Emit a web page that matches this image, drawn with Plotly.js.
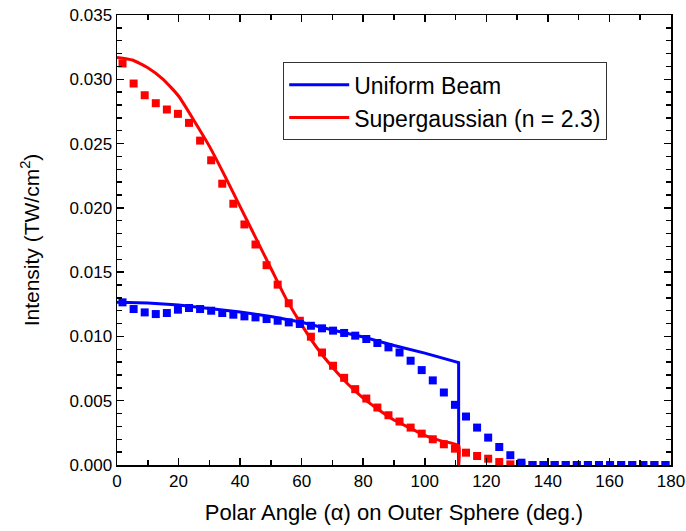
<!DOCTYPE html>
<html>
<head>
<meta charset="utf-8">
<script src="https://cdn.plot.ly/plotly-3.0.1.min.js"></script>
<style>html,body{margin:0;padding:0;background:#fff;}</style>
</head>
<body>
<div id="chart" style="width:686px;height:531px;"></div>
<script>
// Sample angles of the square markers (deg)
const angles = [1.8,5.4,9.0,12.6,16.2,19.8,23.4,27.0,30.6,34.2,37.8,41.4,45.0,48.6,52.2,55.8,59.4,63.0,66.6,70.2,73.8,77.4,81.0,84.6,88.2,91.8,95.4,99.0,102.6,106.2,109.8,113.4,117.0,120.6,124.2,127.8,131.4,135.0,138.6,142.2,145.8,149.4,153.0,156.6,160.2,163.8,167.4,171.0,174.6,178.2];

// Uniform beam (blue squares)
const uniformPts = [0.01265,0.01213,0.01187,0.01174,0.01182,0.01208,0.01221,0.01213,0.01200,0.01182,0.01169,0.01156,0.01148,0.01135,0.01122,0.01109,0.01097,0.01083,0.01063,0.01045,0.01027,0.01006,0.00980,0.00949,0.00915,0.00875,0.00811,0.00738,0.00658,0.00564,0.00468,0.00377,0.00291,0.00213,0.00140,0.00076,0.00018,0,0,0,0,0,0,0,0,0,0,0,0,0];

// Supergaussian (red squares)
const superPts = [0.03123,0.02967,0.02876,0.02814,0.02765,0.02731,0.02661,0.02523,0.02370,0.02188,0.02032,0.01871,0.01715,0.01554,0.01403,0.01258,0.01122,0.00998,0.00875,0.00772,0.00678,0.00590,0.00517,0.00447,0.00387,0.00338,0.00291,0.00244,0.00200,0.00161,0.00127,0.00096,0.00070,0.00049,0.00023,0.00005,0,0,0,0,0,0,0,0,0,0,0,0,0,0];

// Uniform beam (blue line)
const uniformLineX = [0,10,20,30,40,50,60,70,80,90,100,111,111];
const uniformLineY = [0.01265,0.0126,0.01245,0.0122,0.0119,0.01155,0.0111,0.0105,0.00995,0.0093,0.0087,0.00797,0];

// Supergaussian (red line)
const superLineX = [0,5,10,15,20,25,30,35,40,45,50,55,60,65,70,75,80,85,90,95,100,105,111,111];
const superLineY = [0.0317,0.0315,0.0309,0.0300,0.0287,0.0268,0.0248,0.0225,0.0201,0.0177,0.0153,0.0129,0.0109,0.0091,0.0076,0.0063,0.0052,0.0043,0.0035,0.0029,0.0023,0.0019,0.0015,0];

const legendNames = ['Uniform Beam','Supergaussian (n = 2.3)'];
const blue = '#0000ff', red = '#ff0000';

const traces = [
  {x: uniformLineX, y: uniformLineY, mode:'lines', name: legendNames[0], line:{color:blue, width:3}},
  {x: superLineX, y: superLineY, mode:'lines', name: legendNames[1], line:{color:red, width:3, shape:'spline', smoothing:0.5}},
  {x: angles, y: superPts, mode:'markers', showlegend:false, marker:{symbol:'square', size:8, color:red}},
  {x: angles, y: uniformPts, mode:'markers', showlegend:false, marker:{symbol:'square', size:8, color:blue}}
];

const axisCommon = {
  showline:true, linecolor:'#000', linewidth:1.5, mirror:'ticks',
  ticks:'inside', ticklen:7, tickwidth:1.5, tickcolor:'#000',
  showgrid:false, zeroline:false,
  tickfont:{family:'Liberation Sans, Arial, sans-serif', size:17, color:'#000'}
};

const layout = {
  width:686, height:531,
  margin:{l:117, r:15, t:15, b:66},
  paper_bgcolor:'#fff', plot_bgcolor:'#fff',
  font:{family:'Liberation Sans, Arial, sans-serif', color:'#000'},
  xaxis: Object.assign({}, axisCommon, {
    range:[0,180], dtick:20, tick0:0,
    minor:{dtick:10, ticks:'inside', ticklen:5, tickwidth:1.5, tickcolor:'#000'},
    title:{text:'Polar Angle (α) on Outer Sphere (deg.)', font:{size:22, color:'#000'}, standoff:14}
  }),
  yaxis: Object.assign({}, axisCommon, {
    range:[0,0.035], dtick:0.005, tick0:0, tickformat:'.3f',
    minor:{dtick:0.001, ticks:'inside', ticklen:5, tickwidth:1.5, tickcolor:'#000'},
    title:{text:'Intensity (TW/cm<sup>2</sup>)', font:{size:21, color:'#000'}, standoff:24}
  }),
  legend:{x:0.30, y:0.895, xanchor:'left', yanchor:'top', bgcolor:'#fff', bordercolor:'#333', borderwidth:1,
    font:{size:23, color:'#000'}, tracegroupgap:0, itemwidth:60},
  showlegend:true
};

Plotly.newPlot('chart', traces, layout, {displayModeBar:false, staticPlot:true});
</script>
</body>
</html>
